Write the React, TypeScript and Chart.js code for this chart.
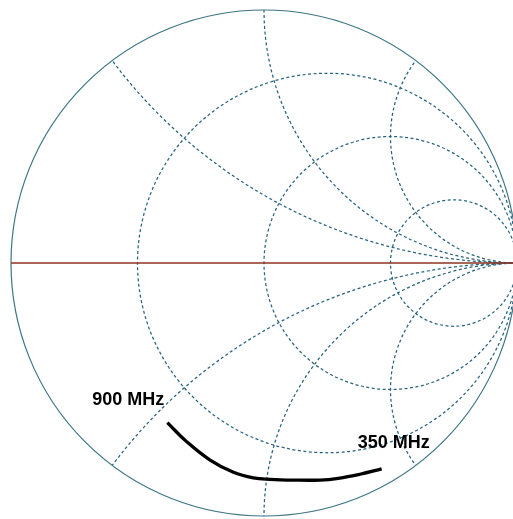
import React, { useEffect, useRef } from "react";
import { Chart, registerables } from "chart.js";

Chart.register(...registerables);

// Smith chart grid values
const RESISTANCE_CIRCLES = [1 / 3, 1, 3];
const REACTANCE_ARCS = [0.5, 1, 2];

// Reflection coefficient trace (real / imaginary parts), 900 MHz -> 350 MHz
const GAMMA_RE = [-0.382, -0.306, -0.213, -0.121, -0.042, 0.024, 0.116, 0.221, 0.294, 0.379, 0.465];
const GAMMA_IM = [-0.631, -0.706, -0.779, -0.827, -0.849, -0.855, -0.858, -0.858, -0.851, -0.835, -0.814];

const LABEL_START = "900 MHz";
const LABEL_END = "350 MHz";

const smithPlugin = {
  id: "smithGrid",
  beforeDatasetsDraw(chart: any) {
    const { ctx } = chart;
    const xs = chart.scales.x;
    const ys = chart.scales.y;
    const px = (u: number) => xs.getPixelForValue(u);
    const py = (v: number) => ys.getPixelForValue(v);
    const k = px(1) - px(0);
    const cx = px(0);
    const cy = py(0);

    ctx.save();
    ctx.beginPath();
    ctx.arc(cx, cy, k, 0, Math.PI * 2);
    ctx.clip();
    ctx.strokeStyle = "#27637d";
    ctx.lineWidth = 1.25;
    ctx.setLineDash([3, 2.5]);
    RESISTANCE_CIRCLES.forEach((r) => {
      ctx.beginPath();
      ctx.arc(px(r / (1 + r)), py(0), k / (1 + r), 0, Math.PI * 2);
      ctx.stroke();
    });
    REACTANCE_ARCS.forEach((x) => {
      [1, -1].forEach((s) => {
        ctx.beginPath();
        ctx.arc(px(1), py(s / x), k / x, 0, Math.PI * 2);
        ctx.stroke();
      });
    });
    ctx.restore();

    ctx.save();
    ctx.strokeStyle = "#3d7585";
    ctx.lineWidth = 1.2;
    ctx.beginPath();
    ctx.arc(cx, cy, k, 0, Math.PI * 2);
    ctx.stroke();
    ctx.strokeStyle = "#8e3420";
    ctx.lineWidth = 1.3;
    ctx.beginPath();
    ctx.moveTo(px(-1), cy);
    ctx.lineTo(chart.width, cy);
    ctx.stroke();
    ctx.restore();
  },
  afterDatasetsDraw(chart: any) {
    const { ctx } = chart;
    const meta = chart.getDatasetMeta(0);
    const first = meta.data[0];
    const last = meta.data[meta.data.length - 1];
    ctx.save();
    ctx.fillStyle = "#000000";
    ctx.font = "bold 18px 'Liberation Sans', Arial, sans-serif";
    ctx.textBaseline = "alphabetic";
    ctx.textAlign = "right";
    ctx.fillText(LABEL_START, first.x - 3, first.y - 18);
    ctx.textAlign = "center";
    ctx.fillText(LABEL_END, last.x + 12, last.y - 21);
    ctx.restore();
  },
};

export default function App() {
  const ref = useRef<HTMLCanvasElement | null>(null);
  useEffect(() => {
    if (!ref.current) return;
    const data = GAMMA_RE.map((u, i) => ({ x: u, y: GAMMA_IM[i] }));
    const chart = new Chart(ref.current, {
      type: "scatter",
      data: {
        datasets: [
          {
            data,
            showLine: true,
            borderColor: "#000000",
            borderWidth: 3.3,
            pointRadius: 0,
            tension: 0.4,
            fill: false,
          },
        ],
      },
      options: {
        animation: false,
        responsive: false,
        devicePixelRatio: 1,
        layout: { padding: 0 },
        plugins: { legend: { display: false }, tooltip: { enabled: false }, title: { display: false } },
        scales: {
          x: { type: "linear", display: false, min: -264 / 253, max: 249 / 253 },
          y: { type: "linear", display: false, min: -256 / 253, max: 263 / 253 },
        },
      },
      plugins: [smithPlugin],
    } as any);
    return () => chart.destroy();
  }, []);
  return (
    <div style={{ position: "fixed", left: 0, top: 0, width: 513, height: 519, background: "#ffffff" }}>
      <canvas ref={ref} width={513} height={519} style={{ display: "block", width: 513, height: 519 }} />
    </div>
  );
}
